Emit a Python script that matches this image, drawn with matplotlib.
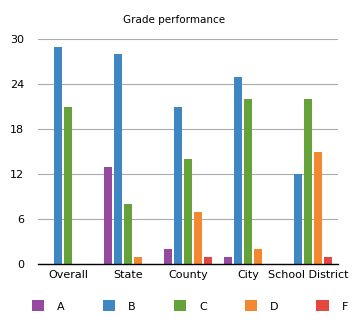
import matplotlib.pyplot as plt
import numpy as np

categories = ['Overall', 'State', 'County', 'City', 'School District']
series = ['A', 'B', 'C', 'D', 'F']
grade_a = [0, 13, 2, 1, 0]
grade_b = [29, 28, 21, 25, 12]
grade_c = [21, 8, 14, 22, 22]
grade_d = [0, 1, 7, 2, 15]
grade_f = [0, 0, 1, 0, 1]
colors = ['#954a9f', '#3f87c2', '#66a23a', '#f2882f', '#e4473f']
yticks = [0, 6, 12, 18, 24, 30]

fig = plt.figure(figsize=(3.61, 3.22), dpi=100)
ax = fig.add_axes([38 / 361, 1 - 264 / 322, 300 / 361, 225 / 322])

x = np.arange(len(categories))
width = 1 / 7.5
values = [grade_a, grade_b, grade_c, grade_d, grade_f]
for i, (name, vals) in enumerate(zip(series, values)):
    ax.bar(x + (i - 2) * (1 / 6), vals, width=width, color=colors[i], label=name, zorder=3)

ax.set_xlim(-0.5, len(categories) - 0.5)
ax.set_ylim(0, 30)
ax.set_yticks(yticks)
ax.set_xticks(x)
ax.set_xticklabels(categories, fontsize=8)
ax.tick_params(axis='both', length=0, labelsize=8)
ax.tick_params(axis='y', pad=10)
ax.tick_params(axis='x', pad=4)
ax.grid(axis='y', color='#aaaaaa', linewidth=0.8, zorder=0)
for s in ['top', 'right', 'left']:
    ax.spines[s].set_visible(False)
ax.spines['bottom'].set_color('black')
ax.spines['bottom'].set_linewidth(1.0)
ax.spines['bottom'].set_zorder(4)
fig.text(174 / 361, 1 - 20 / 322, 'Grade performance', fontsize=7.5, ha='center', va='center')

fig.legend(loc='center', bbox_to_anchor=(190 / 361, 1 - 306 / 322), ncol=5, frameon=False,
           fontsize=8, handlelength=1.1, handleheight=1.1, handletextpad=1.2,
           columnspacing=3.4)

fig.savefig('out.png', dpi=100)
